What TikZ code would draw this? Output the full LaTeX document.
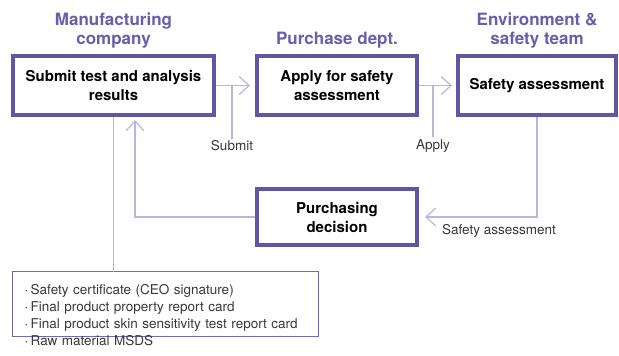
\documentclass[tikz,border=0pt]{standalone}
\usepackage{fontspec}
\setmainfont{TeX Gyre Heros}
\usepackage{tikz}
\usepackage{xcolor}
\usetikzlibrary{arrows.meta, positioning}

\definecolor{frame}{RGB}{100,84,164}
\definecolor{titlepurple}{RGB}{108,92,172}
\definecolor{linelav}{RGB}{188,180,224}
\definecolor{listframe}{RGB}{118,102,182}
\definecolor{textgray}{RGB}{55,55,55}

\begin{document}
\begin{tikzpicture}[
    x=1pt, y=-1pt,
    box/.style={rectangle, draw=frame, line width=4pt, minimum width=160pt, minimum height=59pt, align=center, font=\fontsize{15}{19}\selectfont\bfseries},
    team/.style={inner sep=0pt, align=center, text=titlepurple, font=\fontsize{17}{18.5}\selectfont\bfseries},
    tag/.style={inner sep=2pt, text=textgray, font=\fontsize{13.5}{16}\selectfont},
    docs/.style={rectangle, draw=listframe, line width=1.4pt, outer sep=0pt, inner xsep=12pt, inner ysep=12.5pt, text width=282pt, align=left, text=textgray, font=\fontsize{13.5}{17}\selectfont},
    link/.style={draw=linelav, line width=1.2pt},
    arrow/.style={link, -{Straight Barb[length=10pt, width=18pt]}}
]
    \useasboundingbox (0,0) rectangle (619,356);
    \clip (0,0) rectangle (619,356);

    % Nodes
    \node[box, minimum width=201pt] (submitbox) at (113.5,85.5) {Submit test and analysis\\results};
    \node[box, right=39pt of submitbox] (applybox) {Apply for safety\\assessment};
    \node[box, minimum width=158pt, right=37pt of applybox] (assessbox) {Safety assessment};
    \node[box, minimum height=56pt, below=70pt of applybox] (decisionbox) {Purchasing\\decision};

    % Teams
    \node[team, above=6pt of submitbox] (maker) {Manufacturing\\company};
    \node[team, above=6pt of applybox] (purchase) {Purchase dept.};
    \node[team, above=6pt of assessbox] (safetyteam) {Environment \&\\safety team};

    % Labels
    \node[tag] (submittag) at (232,146) {Submit};
    \node[tag] (applytag) at (433,146) {Apply};
    \node[tag] (assesstag) at (499,231) {Safety assessment};

    % Documents
    \node[docs, anchor=north west, text depth=30pt] (docs) at (12.7,271.7)
        {·\,Safety certificate (CEO signature)\\
         ·\,Final product property report card\\
         ·\,Final product skin sensitivity test report card\\
         ·\,Raw material MSDS};

    % Arrows
    \draw[arrow, shorten >=5pt] (submitbox) -- (applybox);
    \draw[arrow, shorten >=4pt] (applybox) -- (assessbox);
    \draw[link] (submittag.north |- submitbox.east) -- (submittag.north);
    \draw[link] (applytag.north |- applybox.east) -- (applytag.north);
    \draw[arrow, shorten >=6pt] (assessbox.south) |- (decisionbox.east);
    \draw[arrow, shorten >=3pt] (decisionbox.west) -| ([xshift=21.5pt]submitbox.south);
    \draw[link] (submitbox.south) -- (submitbox.south |- docs.north);

\end{tikzpicture}
\end{document}
